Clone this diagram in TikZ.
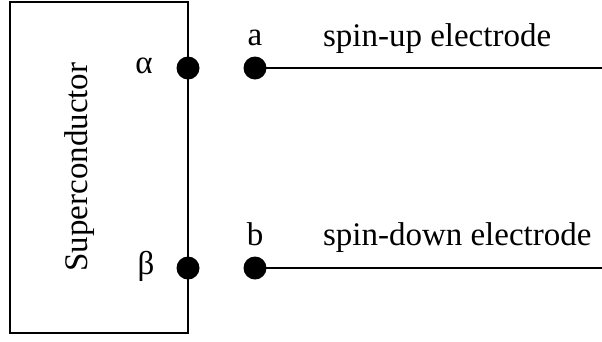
\documentclass[tikz,border=0pt]{standalone}
\usepackage{fontspec}
\setmainfont{Liberation Serif}
\usepackage{tikz}
\usetikzlibrary{positioning}

\begin{document}
\begin{tikzpicture}[x=1pt,y=-1pt,line width=2pt,
  dot/.style={circle,fill=black,inner sep=0pt,minimum size=23pt},
  lbl/.style={font=\fontsize{33}{40}\selectfont,inner sep=0pt,anchor=base}]
\useasboundingbox (0,0) rectangle (602,341);
% superconductor block
\node[draw,line width=1.6pt,inner sep=0pt,minimum width=178pt,minimum height=331pt] (sc) at (99,167.5) {};
\node[lbl,rotate=90] (sclbl) at (87,167) {Superconductor};
% contacts on the superconductor
\node[dot] (alpha) at (188,68) {};
\node[dot] (beta) at (188,268) {};
\node[lbl] (alphalbl) at (144,73) {α};
\node[lbl] (betalbl) at (146,274) {β};
% electrodes
\node[dot] (a) at (255,68) {};
\node[dot] (b) at (255,268) {};
\coordinate (aend) at (602,68);
\coordinate (bend) at (602,268);
\draw (a.center) -- (aend);
\draw (b.center) -- (bend);
\node[lbl] (albl) at (255,45) {a};
\node[lbl] (blbl) at (255,245) {b};
\node[lbl,anchor=base west] (up) at (322,46) {spin-up electrode};
\node[lbl,anchor=base west] (down) at (322,245) {spin-down electrode};
\end{tikzpicture}
\end{document}
